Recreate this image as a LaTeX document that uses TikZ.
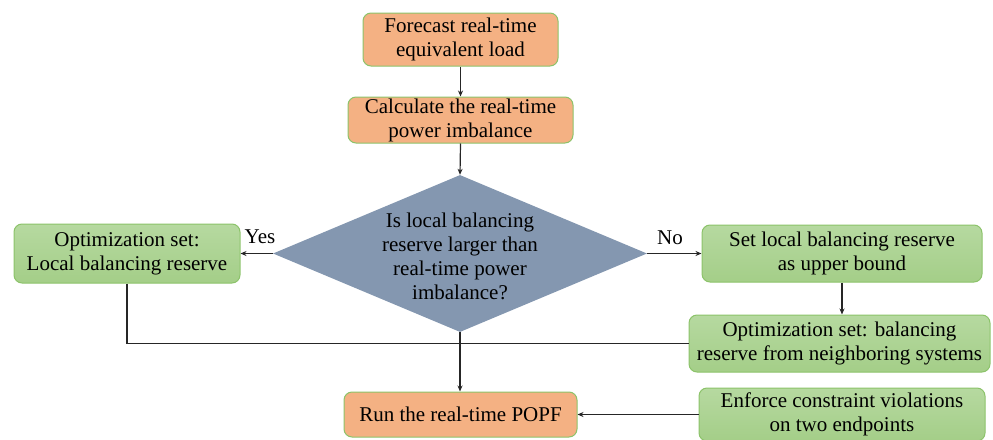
\documentclass[tikz,border=0pt]{standalone}
\usepackage{fontspec}
\setmainfont{Liberation Serif}
\usetikzlibrary{shapes.geometric,arrows.meta}
\definecolor{orangefill}{HTML}{F4B183}
\definecolor{greenedge}{HTML}{8CC36A}
\definecolor{greentop}{HTML}{B6D9A0}
\definecolor{greenbot}{HTML}{A4CE88}
\definecolor{decfill}{HTML}{8497B0}
\tikzset{
  base/.style={rounded corners=8pt, draw=greenedge, line width=1pt, align=center,
    inner sep=0pt, font=\fontsize{21}{24}\selectfont},
  orangebox/.style={base, fill=orangefill},
  greenbox/.style={base, top color=greentop, bottom color=greenbot},
  conn/.style={line width=1.2pt, draw=black!85},
  arr/.style={conn, -{Stealth[length=6pt,width=5pt]}},
  lbl/.style={font=\fontsize{21}{24}\selectfont, inner sep=0pt}
}
\begin{document}
\begin{tikzpicture}[x=1pt,y=-1pt]
\useasboundingbox (0,0) rectangle (993,439);
\node[orangebox, minimum width=195pt, minimum height=53pt] (fc) at (460.5,39.5) {Forecast real-time\\equivalent load};
\node[orangebox, minimum width=225pt, minimum height=46pt] (calc) at (460.5,120) {Calculate the real-time\\power imbalance};
\node[diamond, fill=decfill, minimum width=374pt, minimum height=157pt, inner sep=0pt] (dec) at (460,253.5) {};
\node[lbl, align=center] (dectext) at (460,256) {Is local balancing\\reserve larger than\\real-time power\\imbalance?};
\node[greenbox, minimum width=226pt, minimum height=59pt] (loc) at (127,253.5) {Optimization set:\\Local balancing reserve};
\node[greenbox, minimum width=280pt, minimum height=57pt] (setl) at (842,253.5) {Set local balancing reserve\\as upper bound};
\node[greenbox, minimum width=301pt, minimum height=57pt] (optnb) at (839.5,343.5) {Optimization set: balancing\\reserve from neighboring systems};
\node[orangebox, minimum width=233pt, minimum height=45pt] (popf) at (460.5,414.5) {Run the real-time POPF};
\node[greenbox, minimum width=286pt, minimum height=53pt] (enf) at (842,414.5) {Enforce constraint violations\\on two endpoints};
\node[lbl] (yes) at (260,237) {Yes};
\node[lbl] (no) at (670,238) {No};
\draw[arr] (fc.south) -- (calc.north);
\draw[arr] (calc.south) -- (dec.north);
\draw[arr] (dec.west) -- (loc.east);
\draw[arr] (dec.east) -- (setl.west);
\draw[arr] (setl.south) -- (optnb.north -| setl.south);
\draw[conn] (loc.south) |- (optnb.west);
\draw[arr] (dec.south) -- (dec.south |- popf.north);
\draw[arr] (enf.west) -- (popf.east);
\end{tikzpicture}
\end{document}
